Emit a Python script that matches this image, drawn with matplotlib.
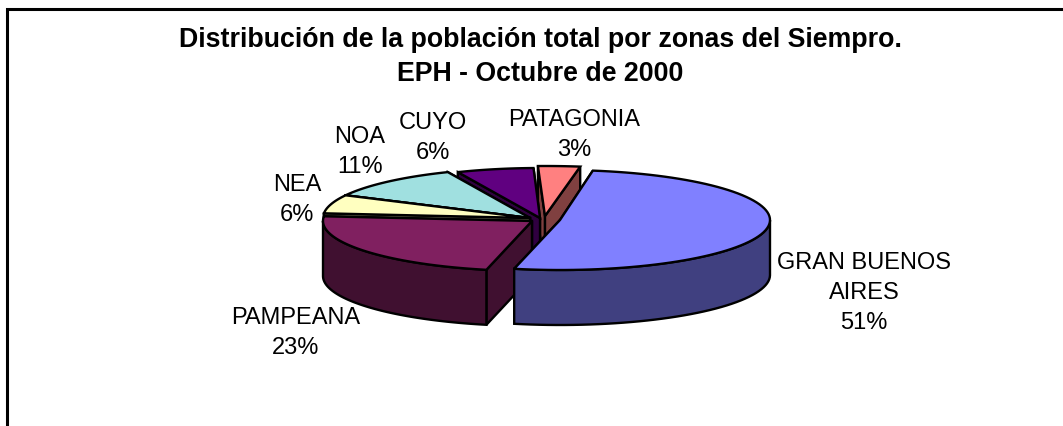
#!/usr/bin/env python3
"""Exploded 3D-look pie: poblacion total por zonas, EPH octubre 2000."""

import numpy as np
import matplotlib
matplotlib.use("Agg")
import matplotlib.pyplot as plt

# clockwise from the top right, as the slices run round the pie
zones = ["GRAN BUENOS\nAIRES", "PAMPEANA", "NEA", "NOA", "CUYO", "PATAGONIA"]
shares = [51, 23, 6, 11, 6, 3]
title = "Distribución de la población total por zonas del Siempro.\nEPH - Octubre de 2000"

top_colors = ["#8080FF", "#802060", "#FFFFC0", "#A0E0E0", "#600080", "#FF8080"]
side_colors = ["#404080", "#401030", "#808060", "#507070", "#300040", "#804040"]

# slice centre in pixels, horizontal radius, label anchor
centers = [(560, 220), (532, 221), (530, 218), (530, 218), (540, 218), (545, 216)]
radii_x = [210, 209, 207, 207, 207, 225]
label_pos = [(864, 293), (296, 333), (297, 200), (360, 152), (433, 138), (574, 135)]
RADIUS_Y = 50
DEPTH = 55
START = 81.0
LW = 1.7

plt.rcParams["font.family"] = ["Liberation Sans", "DejaVu Sans"]

fig = plt.figure(figsize=(10.63, 4.26), dpi=100)
ax = fig.add_axes((0, 0, 1, 1))
ax.set_xlim(0, 1063)
ax.set_ylim(426, 0)
ax.axis("off")

# chart frame, only top and left show
ax.plot([7, 7, 1063], [426, 9, 9], color="black", lw=2.2, solid_joinstyle="miter")

edges = np.cumsum([0] + shares) / sum(shares) * 360.0
spans = [(START - edges[i], START - edges[i + 1]) for i in range(len(shares))]


def draw_slice(i):
    cx, cy = centers[i]
    t = np.radians(np.linspace(spans[i][0], spans[i][1], 80))
    x = cx + radii_x[i] * np.cos(t)
    y = cy - RADIUS_Y * np.sin(t)
    # cut faces first (the one nearer the viewer last), then the rim, then the lid
    for px, py in sorted([(x[0], y[0]), (x[-1], y[-1])], key=lambda p: p[1]):
        ax.fill([cx, px, px, cx], [cy, py, py + DEPTH, cy + DEPTH],
                fc=side_colors[i], ec="black", lw=LW)
    front = np.sin(t) <= 0.02
    if front.any():
        ax.fill(np.r_[x[front], x[front][::-1]], np.r_[y[front], y[front][::-1] + DEPTH],
                fc=side_colors[i], ec="black", lw=LW)
    ax.fill(np.r_[cx, x], np.r_[cy, y], fc=top_colors[i], ec="black", lw=LW)


# back to front
for i in [5, 4, 3, 2, 1, 0]:
    draw_slice(i)

for name, share, (lx, ly) in zip(zones, shares, label_pos):
    ax.text(lx, ly, f"{name}\n{share}%", ha="center", va="center",
            fontsize=17, linespacing=1.47, color="black")

ax.text(540, 57, title, ha="center", va="center", fontsize=19.3,
        fontweight="bold", linespacing=1.42)

fig.savefig("out.png", dpi=100)
